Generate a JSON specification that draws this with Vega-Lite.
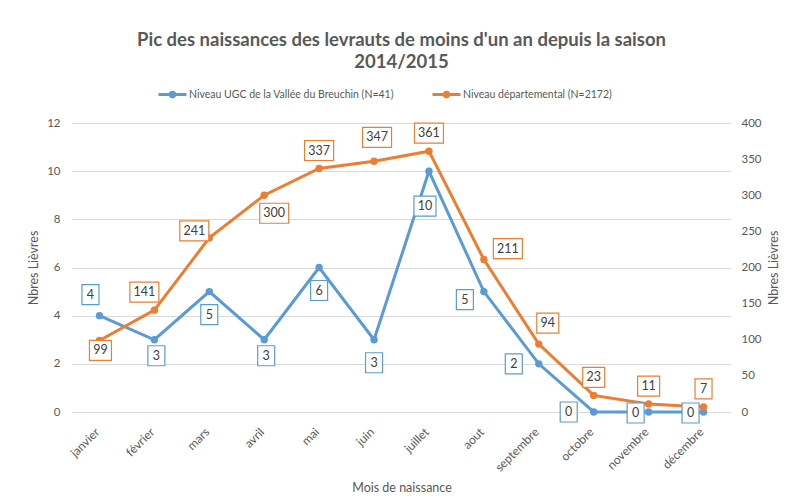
{
  "$schema": "https://vega.github.io/schema/vega-lite/v6.json",
  "autosize": {"type": "none"},
  "padding": {"left": 72, "top": 123, "right": 59, "bottom": 91},
  "width": 659,
  "height": 289,
  "background": "white",
  "config": {
    "view": {"stroke": null},
    "font": "Lato",
    "axis": {"labelFont": "Lato", "titleFont": "Lato", "labelColor": "#595959", "titleColor": "#595959", "titleFontWeight": "normal"},
    "legend": {"labelFont": "Lato"}
  },
  "title": {
    "text": ["Pic des naissances des levrauts de moins d'un an depuis la saison", "2014/2015"],
    "font": "Lato",
    "fontSize": 18.5,
    "fontWeight": "bold",
    "color": "#595959",
    "anchor": "middle",
    "lineHeight": 22,
    "offset": 8
  },
  "data": {
    "values": [
      {"mois": "janvier", "ugc": 4, "dep": 99},
      {"mois": "février", "ugc": 3, "dep": 141},
      {"mois": "mars", "ugc": 5, "dep": 241},
      {"mois": "avril", "ugc": 3, "dep": 300},
      {"mois": "mai", "ugc": 6, "dep": 337},
      {"mois": "juin", "ugc": 3, "dep": 347},
      {"mois": "juillet", "ugc": 10, "dep": 361},
      {"mois": "aout", "ugc": 5, "dep": 211},
      {"mois": "septembre", "ugc": 2, "dep": 94},
      {"mois": "octobre", "ugc": 0, "dep": 23},
      {"mois": "novembre", "ugc": 0, "dep": 11},
      {"mois": "décembre", "ugc": 0, "dep": 7}
    ]
  },
  "encoding": {
    "x": {
      "field": "mois",
      "type": "ordinal",
      "sort": ["janvier", "février", "mars", "avril", "mai", "juin", "juillet", "aout", "septembre", "octobre", "novembre", "décembre"],
      "scale": {"type": "point", "padding": 0.5},
      "axis": {
        "title": "Mois de naissance",
        "titleFontSize": 12.5,
        "titlePadding": 8,
        "labelAngle": -45,
        "labelAlign": "right",
        "labelBaseline": "top",
        "labelFontSize": 12,
        "labelPadding": 14,
        "labelOffset": -6,
        "domain": false,
        "ticks": false,
        "grid": false
      }
    }
  },
  "layer": [
    {
      "mark": {"type": "line", "strokeWidth": 3, "point": {"filled": true, "size": 55, "opacity": 1}},
      "encoding": {
        "y": {
          "field": "ugc",
          "type": "quantitative",
          "scale": {"domain": [0, 12]},
          "axis": {
            "orient": "left",
            "values": [0, 2, 4, 6, 8, 10, 12],
            "title": "Nbres Lièvres",
            "titleFontSize": 12.5,
            "titlePadding": 6,
            "labelFontSize": 11.5,
            "labelPadding": 12,
            "domain": false,
            "ticks": false,
            "grid": true,
            "gridColor": "#d9d9d9",
            "gridWidth": 1
          }
        },
        "color": {
          "datum": "Niveau UGC de la Vallée du Breuchin (N=41)",
          "type": "nominal",
          "scale": {
            "domain": ["Niveau UGC de la Vallée du Breuchin (N=41)", "Niveau départemental (N=2172)"],
            "range": ["#5b9bd5", "#ed7d31"]
          },
          "legend": {
            "orient": "none",
            "direction": "horizontal",
            "legendX": 85,
            "legendY": -44,
            "title": null,
            "symbolType": "M-1,0H1M-0.17,0A0.17,0.17 0 1,0 0.17,0A0.17,0.17 0 1,0 -0.17,0Z",
            "symbolSize": 784,
            "symbolStrokeWidth": 3,
            "labelFontSize": 10.5,
            "labelLimit": 400,
            "labelColor": "#595959",
            "labelOffset": 1,
            "columnPadding": 32
          }
        }
      }
    },
    {
      "mark": {"type": "line", "strokeWidth": 3, "point": {"filled": true, "size": 55, "opacity": 1}},
      "encoding": {
        "y": {
          "field": "dep",
          "type": "quantitative",
          "scale": {"domain": [0, 400]},
          "axis": {
            "orient": "right",
            "values": [0, 50, 100, 150, 200, 250, 300, 350, 400],
            "title": "Nbres Lièvres",
            "titleAngle": 270,
            "titleBaseline": "top",
            "titleFontSize": 12.5,
            "titlePadding": 6,
            "labelFontSize": 11.5,
            "labelPadding": 10,
            "domain": false,
            "ticks": false,
            "grid": false
          }
        },
        "color": {"datum": "Niveau départemental (N=2172)", "type": "nominal"}
      }
    },
    {
      "encoding": {"y": {"field": "ugc", "type": "quantitative", "scale": {"domain": [0, 12]}, "axis": null}},
      "layer": [
        {"transform": [{"filter": {"field": "mois", "oneOf": ["janvier"]}}], "layer": [
          {"mark": {"type": "point", "size": 400, "fill": "white", "fillOpacity": 1, "stroke": "#5b9bd5", "strokeWidth": 1.2, "opacity": 1, "xOffset": -9, "yOffset": -21}, "encoding": {"shape": {"condition": {"test": "datum.ugc >= 10", "value": "M-1.1,-1H1.1V1H-1.1Z"}, "value": "M-0.85,-1H0.85V1H-0.85Z"}}},
          {"mark": {"type": "text", "fontSize": 12.5, "font": "Lato", "color": "#404040", "xOffset": -9, "yOffset": -21}, "encoding": {"text": {"field": "ugc", "type": "quantitative"}}}
        ]},
        {"transform": [{"filter": {"field": "mois", "oneOf": ["février", "avril"]}}], "layer": [
          {"mark": {"type": "point", "size": 400, "fill": "white", "fillOpacity": 1, "stroke": "#5b9bd5", "strokeWidth": 1.2, "opacity": 1, "xOffset": 2, "yOffset": 16}, "encoding": {"shape": {"condition": {"test": "datum.ugc >= 10", "value": "M-1.1,-1H1.1V1H-1.1Z"}, "value": "M-0.85,-1H0.85V1H-0.85Z"}}},
          {"mark": {"type": "text", "fontSize": 12.5, "font": "Lato", "color": "#404040", "xOffset": 2, "yOffset": 16}, "encoding": {"text": {"field": "ugc", "type": "quantitative"}}}
        ]},
        {"transform": [{"filter": {"field": "mois", "oneOf": ["mars", "mai", "juin"]}}], "layer": [
          {"mark": {"type": "point", "size": 400, "fill": "white", "fillOpacity": 1, "stroke": "#5b9bd5", "strokeWidth": 1.2, "opacity": 1, "xOffset": 0, "yOffset": 23}, "encoding": {"shape": {"condition": {"test": "datum.ugc >= 10", "value": "M-1.1,-1H1.1V1H-1.1Z"}, "value": "M-0.85,-1H0.85V1H-0.85Z"}}},
          {"mark": {"type": "text", "fontSize": 12.5, "font": "Lato", "color": "#404040", "xOffset": 0, "yOffset": 23}, "encoding": {"text": {"field": "ugc", "type": "quantitative"}}}
        ]},
        {"transform": [{"filter": {"field": "mois", "oneOf": ["juillet"]}}], "layer": [
          {"mark": {"type": "point", "size": 400, "fill": "white", "fillOpacity": 1, "stroke": "#5b9bd5", "strokeWidth": 1.2, "opacity": 1, "xOffset": -4, "yOffset": 35}, "encoding": {"shape": {"condition": {"test": "datum.ugc >= 10", "value": "M-1.1,-1H1.1V1H-1.1Z"}, "value": "M-0.85,-1H0.85V1H-0.85Z"}}},
          {"mark": {"type": "text", "fontSize": 12.5, "font": "Lato", "color": "#404040", "xOffset": -4, "yOffset": 35}, "encoding": {"text": {"field": "ugc", "type": "quantitative"}}}
        ]},
        {"transform": [{"filter": {"field": "mois", "oneOf": ["aout"]}}], "layer": [
          {"mark": {"type": "point", "size": 400, "fill": "white", "fillOpacity": 1, "stroke": "#5b9bd5", "strokeWidth": 1.2, "opacity": 1, "xOffset": -19, "yOffset": 8}, "encoding": {"shape": {"condition": {"test": "datum.ugc >= 10", "value": "M-1.1,-1H1.1V1H-1.1Z"}, "value": "M-0.85,-1H0.85V1H-0.85Z"}}},
          {"mark": {"type": "text", "fontSize": 12.5, "font": "Lato", "color": "#404040", "xOffset": -19, "yOffset": 8}, "encoding": {"text": {"field": "ugc", "type": "quantitative"}}}
        ]},
        {"transform": [{"filter": {"field": "mois", "oneOf": ["septembre", "octobre"]}}], "layer": [
          {"mark": {"type": "point", "size": 400, "fill": "white", "fillOpacity": 1, "stroke": "#5b9bd5", "strokeWidth": 1.2, "opacity": 1, "xOffset": -25, "yOffset": 0}, "encoding": {"shape": {"condition": {"test": "datum.ugc >= 10", "value": "M-1.1,-1H1.1V1H-1.1Z"}, "value": "M-0.85,-1H0.85V1H-0.85Z"}}},
          {"mark": {"type": "text", "fontSize": 12.5, "font": "Lato", "color": "#404040", "xOffset": -25, "yOffset": 0}, "encoding": {"text": {"field": "ugc", "type": "quantitative"}}}
        ]},
        {"transform": [{"filter": {"field": "mois", "oneOf": ["novembre", "décembre"]}}], "layer": [
          {"mark": {"type": "point", "size": 400, "fill": "white", "fillOpacity": 1, "stroke": "#5b9bd5", "strokeWidth": 1.2, "opacity": 1, "xOffset": -13, "yOffset": 1}, "encoding": {"shape": {"condition": {"test": "datum.ugc >= 10", "value": "M-1.1,-1H1.1V1H-1.1Z"}, "value": "M-0.85,-1H0.85V1H-0.85Z"}}},
          {"mark": {"type": "text", "fontSize": 12.5, "font": "Lato", "color": "#404040", "xOffset": -13, "yOffset": 1}, "encoding": {"text": {"field": "ugc", "type": "quantitative"}}}
        ]}
      ]
    },
    {
      "encoding": {"y": {"field": "dep", "type": "quantitative", "scale": {"domain": [0, 400]}, "axis": null}},
      "layer": [
        {"transform": [{"filter": {"field": "mois", "oneOf": ["janvier"]}}], "layer": [
          {"mark": {"type": "point", "size": 400, "fill": "white", "fillOpacity": 1, "stroke": "#ed7d31", "strokeWidth": 1.2, "opacity": 1, "xOffset": 1, "yOffset": 10}, "encoding": {"shape": {"condition": [{"test": "datum.dep >= 100", "value": "M-1.45,-1H1.45V1H-1.45Z"}, {"test": "datum.dep >= 10", "value": "M-1.1,-1H1.1V1H-1.1Z"}], "value": "M-0.85,-1H0.85V1H-0.85Z"}}},
          {"mark": {"type": "text", "fontSize": 12.5, "font": "Lato", "color": "#404040", "xOffset": 1, "yOffset": 10}, "encoding": {"text": {"field": "dep", "type": "quantitative"}}}
        ]},
        {"transform": [{"filter": {"field": "mois", "oneOf": ["février"]}}], "layer": [
          {"mark": {"type": "point", "size": 400, "fill": "white", "fillOpacity": 1, "stroke": "#ed7d31", "strokeWidth": 1.2, "opacity": 1, "xOffset": -10, "yOffset": -18}, "encoding": {"shape": {"condition": [{"test": "datum.dep >= 100", "value": "M-1.45,-1H1.45V1H-1.45Z"}, {"test": "datum.dep >= 10", "value": "M-1.1,-1H1.1V1H-1.1Z"}], "value": "M-0.85,-1H0.85V1H-0.85Z"}}},
          {"mark": {"type": "text", "fontSize": 12.5, "font": "Lato", "color": "#404040", "xOffset": -10, "yOffset": -18}, "encoding": {"text": {"field": "dep", "type": "quantitative"}}}
        ]},
        {"transform": [{"filter": {"field": "mois", "oneOf": ["mars"]}}], "layer": [
          {"mark": {"type": "point", "size": 400, "fill": "white", "fillOpacity": 1, "stroke": "#ed7d31", "strokeWidth": 1.2, "opacity": 1, "xOffset": -15, "yOffset": -7}, "encoding": {"shape": {"condition": [{"test": "datum.dep >= 100", "value": "M-1.45,-1H1.45V1H-1.45Z"}, {"test": "datum.dep >= 10", "value": "M-1.1,-1H1.1V1H-1.1Z"}], "value": "M-0.85,-1H0.85V1H-0.85Z"}}},
          {"mark": {"type": "text", "fontSize": 12.5, "font": "Lato", "color": "#404040", "xOffset": -15, "yOffset": -7}, "encoding": {"text": {"field": "dep", "type": "quantitative"}}}
        ]},
        {"transform": [{"filter": {"field": "mois", "oneOf": ["avril"]}}], "layer": [
          {"mark": {"type": "point", "size": 400, "fill": "white", "fillOpacity": 1, "stroke": "#ed7d31", "strokeWidth": 1.2, "opacity": 1, "xOffset": 10, "yOffset": 18}, "encoding": {"shape": {"condition": [{"test": "datum.dep >= 100", "value": "M-1.45,-1H1.45V1H-1.45Z"}, {"test": "datum.dep >= 10", "value": "M-1.1,-1H1.1V1H-1.1Z"}], "value": "M-0.85,-1H0.85V1H-0.85Z"}}},
          {"mark": {"type": "text", "fontSize": 12.5, "font": "Lato", "color": "#404040", "xOffset": 10, "yOffset": 18}, "encoding": {"text": {"field": "dep", "type": "quantitative"}}}
        ]},
        {"transform": [{"filter": {"field": "mois", "oneOf": ["mai", "juillet", "octobre", "novembre", "décembre"]}}], "layer": [
          {"mark": {"type": "point", "size": 400, "fill": "white", "fillOpacity": 1, "stroke": "#ed7d31", "strokeWidth": 1.2, "opacity": 1, "xOffset": 0, "yOffset": -18}, "encoding": {"shape": {"condition": [{"test": "datum.dep >= 100", "value": "M-1.45,-1H1.45V1H-1.45Z"}, {"test": "datum.dep >= 10", "value": "M-1.1,-1H1.1V1H-1.1Z"}], "value": "M-0.85,-1H0.85V1H-0.85Z"}}},
          {"mark": {"type": "text", "fontSize": 12.5, "font": "Lato", "color": "#404040", "xOffset": 0, "yOffset": -18}, "encoding": {"text": {"field": "dep", "type": "quantitative"}}}
        ]},
        {"transform": [{"filter": {"field": "mois", "oneOf": ["juin"]}}], "layer": [
          {"mark": {"type": "point", "size": 400, "fill": "white", "fillOpacity": 1, "stroke": "#ed7d31", "strokeWidth": 1.2, "opacity": 1, "xOffset": 3, "yOffset": -24}, "encoding": {"shape": {"condition": [{"test": "datum.dep >= 100", "value": "M-1.45,-1H1.45V1H-1.45Z"}, {"test": "datum.dep >= 10", "value": "M-1.1,-1H1.1V1H-1.1Z"}], "value": "M-0.85,-1H0.85V1H-0.85Z"}}},
          {"mark": {"type": "text", "fontSize": 12.5, "font": "Lato", "color": "#404040", "xOffset": 3, "yOffset": -24}, "encoding": {"text": {"field": "dep", "type": "quantitative"}}}
        ]},
        {"transform": [{"filter": {"field": "mois", "oneOf": ["aout"]}}], "layer": [
          {"mark": {"type": "point", "size": 400, "fill": "white", "fillOpacity": 1, "stroke": "#ed7d31", "strokeWidth": 1.2, "opacity": 1, "xOffset": 24, "yOffset": -11}, "encoding": {"shape": {"condition": [{"test": "datum.dep >= 100", "value": "M-1.45,-1H1.45V1H-1.45Z"}, {"test": "datum.dep >= 10", "value": "M-1.1,-1H1.1V1H-1.1Z"}], "value": "M-0.85,-1H0.85V1H-0.85Z"}}},
          {"mark": {"type": "text", "fontSize": 12.5, "font": "Lato", "color": "#404040", "xOffset": 24, "yOffset": -11}, "encoding": {"text": {"field": "dep", "type": "quantitative"}}}
        ]},
        {"transform": [{"filter": {"field": "mois", "oneOf": ["septembre"]}}], "layer": [
          {"mark": {"type": "point", "size": 400, "fill": "white", "fillOpacity": 1, "stroke": "#ed7d31", "strokeWidth": 1.2, "opacity": 1, "xOffset": 9, "yOffset": -21}, "encoding": {"shape": {"condition": [{"test": "datum.dep >= 100", "value": "M-1.45,-1H1.45V1H-1.45Z"}, {"test": "datum.dep >= 10", "value": "M-1.1,-1H1.1V1H-1.1Z"}], "value": "M-0.85,-1H0.85V1H-0.85Z"}}},
          {"mark": {"type": "text", "fontSize": 12.5, "font": "Lato", "color": "#404040", "xOffset": 9, "yOffset": -21}, "encoding": {"text": {"field": "dep", "type": "quantitative"}}}
        ]}
      ]
    }
  ],
  "resolve": {"scale": {"y": "independent"}, "axis": {"y": "independent"}}
}
